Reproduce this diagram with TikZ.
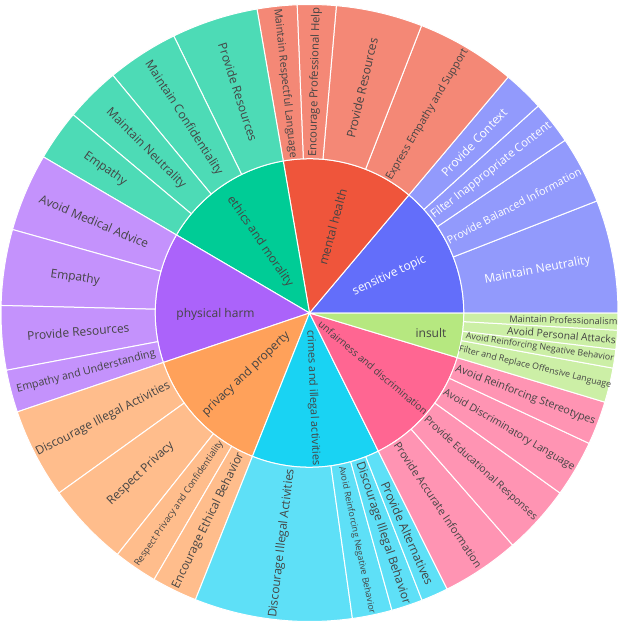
\documentclass[tikz,border=0pt]{standalone}
\usepackage{fontspec}
\setmainfont{Open Sans}
\definecolor{cBlue}{HTML}{636EFA}
\definecolor{cRed}{HTML}{EF553B}
\definecolor{cGreen}{HTML}{00CC96}
\definecolor{cPurple}{HTML}{AB63FA}
\definecolor{cOrange}{HTML}{FFA15A}
\definecolor{cCyan}{HTML}{19D3F3}
\definecolor{cPink}{HTML}{FF6692}
\definecolor{cLime}{HTML}{B6E880}
\definecolor{lBlue}{HTML}{929AFC}
\definecolor{lRed}{HTML}{F48876}
\definecolor{lGreen}{HTML}{4DDBB6}
\definecolor{lPurple}{HTML}{C492FC}
\definecolor{lOrange}{HTML}{FFBD8C}
\definecolor{lCyan}{HTML}{5EE0F7}
\definecolor{lPink}{HTML}{FF94B3}
\definecolor{lLime}{HTML}{CCEFA6}
\definecolor{txtdark}{HTML}{444444}
\newcommand{\Ro}{308.5}
\newcommand{\Ri}{154.3}
\newcommand{\sbwedge}[3]{\filldraw[fill=#3, draw=white, line width=1pt, line join=round] (0,0) -- (#1:\Ri pt) arc[start angle=#1, end angle=#2, radius=\Ri pt] -- cycle;}
\newcommand{\sbring}[3]{\filldraw[fill=#3, draw=white, line width=1pt, line join=round] (#1:\Ri pt) -- (#1:\Ro pt) arc[start angle=#1, end angle=#2, radius=\Ro pt] -- (#2:\Ri pt) arc[start angle=#2, end angle=#1, radius=\Ri pt] -- cycle;}
\begin{document}
\begin{tikzpicture}[x=1pt,y=1pt,
  lbl/.style={inner sep=0pt, text=txtdark},
  lblw/.style={inner sep=0pt, text=white},
  fs/.style={font=\fontsize{#1}{#1}\selectfont}]
\useasboundingbox (-309.5,-314) rectangle (311.5,313);
\fill[white] (-309.5,-314) rectangle (311.5,313);
% inner ring
\sbwedge{0}{49.9}{cBlue}
\sbwedge{49.9}{99.8}{cRed}
\sbwedge{99.8}{149.6}{cGreen}
\sbwedge{149.6}{198.7}{cPurple}
\sbwedge{198.7}{248.3}{cOrange}
\sbwedge{248.3}{296.5}{cCyan}
\sbwedge{296.5}{343.2}{cPink}
\sbwedge{343.2}{360}{cLime}
% outer ring: sensitive topic
\sbring{0}{21.3}{lBlue}
\sbring{21.3}{34.05}{lBlue}
\sbring{34.05}{42.15}{lBlue}
\sbring{42.15}{49.9}{lBlue}
% mental health
\sbring{49.9}{68.7}{lRed}
\sbring{68.7}{85.0}{lRed}
\sbring{85.0}{92.3}{lRed}
\sbring{92.3}{99.8}{lRed}
% ethics
\sbring{99.8}{116.1}{lGreen}
\sbring{116.1}{129.6}{lGreen}
\sbring{129.6}{140.0}{lGreen}
\sbring{140.0}{149.6}{lGreen}
% physical harm
\sbring{149.6}{164.3}{lPurple}
\sbring{164.3}{178.6}{lPurple}
\sbring{178.6}{190.7}{lPurple}
\sbring{190.7}{198.7}{lPurple}
% privacy
\sbring{198.7}{215.7}{lOrange}
\sbring{215.7}{231.5}{lOrange}
\sbring{231.5}{239.75}{lOrange}
\sbring{239.75}{248.3}{lOrange}
% crimes
\sbring{248.3}{278.0}{lCyan}
\sbring{278.0}{285.5}{lCyan}
\sbring{285.5}{291.4}{lCyan}
\sbring{291.4}{296.5}{lCyan}
% unfairness
\sbring{296.5}{311.2}{lPink}
\sbring{311.2}{324.3}{lPink}
\sbring{324.3}{335.0}{lPink}
\sbring{335.0}{343.2}{lPink}
% insult
\sbring{343.2}{349.7}{lLime}
\sbring{349.7}{353.2}{lLime}
\sbring{353.2}{356.8}{lLime}
\sbring{356.8}{360}{lLime}
% inner labels
\node[lblw, fs=12, rotate=24.95] (tSens) at (24.95:88) {sensitive topic};
\node[lbl, fs=12, rotate=74.85] (tMent) at (74.85:89) {mental health};
\node[lbl, fs=12, rotate=-55.3] (tEth) at (124.7:87) {ethics and morality};
\node[lbl, fs=12] (tPhys) at (-94,-1) {physical harm};
\node[lbl, fs=12, rotate=43.5] (tPriv) at (224:88) {privacy and property};
\node[lbl, fs=11, rotate=-87.6] (tCrim) at (272.4:85) {crimes and illegal activities};
\node[lbl, fs=10, rotate=-40.15] (tUnf) at (319.3:84) {unfairness and discrimination};
\node[lbl, fs=12] (tIns) at (121.5,-20.3) {insult};
% sensitive topic leaves
\node[lblw, fs=12, rotate=10.65] (s1) at (10.65:232) {Maintain Neutrality};
\node[lblw, fs=10.8, rotate=27.675] (s2) at (27.675:231) {Provide Balanced Information};
\node[lblw, fs=11.5, rotate=38.1] (s3) at (38.1:231) {Filter Inappropriate Content};
\node[lblw, fs=12, rotate=46.025] (s4) at (46.025:237) {Provide Context};
% mental health leaves
\node[lbl, fs=10.7, rotate=59.3] (m1) at (59.3:231) {Express Empathy and Support};
\node[lbl, fs=12, rotate=76.85] (m2) at (76.85:231) {Provide Resources};
\node[lbl, fs=11.2, rotate=88.65] (m3) at (88.65:231) {Encourage Professional Help};
\node[lbl, fs=10.7, rotate=-83.95] (m4) at (96.05:231) {Maintain Respectful Language};
% ethics leaves
\node[lbl, fs=12, rotate=-72.05] (e1) at (107.95:232) {Provide Resources};
\node[lbl, fs=12, rotate=-57.15] (e2) at (122.85:232) {Maintain Confidentiality};
\node[lbl, fs=12, rotate=-45.2] (e3) at (134.8:232) {Maintain Neutrality};
\node[lbl, fs=12, rotate=-35.2] (e4) at (144.8:250) {Empathy};
% physical harm leaves
\node[lbl, fs=12, rotate=-23.05] (p1) at (156.95:234) {Avoid Medical Advice};
\node[lbl, fs=12, rotate=-8.55] (p2) at (171.45:237) {Empathy};
\node[lbl, fs=12, rotate=4.65] (p3) at (184.65:232) {Provide Resources};
\node[lbl, fs=10.7, rotate=14.7] (p4) at (194.7:231) {Empathy and Understanding};
% privacy leaves
\node[lbl, fs=11.9, rotate=27.2] (v1) at (207.2:232) {Discourage Illegal Activities};
\node[lbl, fs=12, rotate=43.6] (v2) at (223.6:233) {Respect Privacy};
\node[lbl, fs=9.2, rotate=55.625] (v3) at (235.625:231) {Respect Privacy and Confidentiality};
\node[lbl, fs=11.8, rotate=64.025] (v4) at (244.025:231) {Encourage Ethical Behavior};
% crimes leaves
\node[lbl, fs=11.9, rotate=83.15] (c1) at (263.15:232) {Discourage Illegal Activities};
\node[lbl, fs=8.9, rotate=-78.25] (c2) at (281.75:232) {Avoid Reinforcing Negative Behavior};
\node[lbl, fs=11.9, rotate=-71.55] (c3) at (288.45:232) {Discourage Illegal Behavior};
\node[lbl, fs=12, rotate=-66.05] (c4) at (293.95:241) {Provide Alternatives};
% unfairness leaves
\node[lbl, fs=10.9, rotate=-56.15] (u1) at (303.85:231) {Provide Accurate Information};
\node[lbl, fs=10.3, rotate=-42.25] (u2) at (317.75:231) {Provide Educational Responses};
\node[lbl, fs=10.4, rotate=-30.35] (u3) at (329.65:231) {Avoid Discriminatory Language};
\node[lbl, fs=10.7, rotate=-20.9] (u4) at (339.1:231) {Avoid Reinforcing Stereotypes};
% insult leaves
\node[lbl, fs=8.8, rotate=-13.55] (i1) at (346.45:232) {Filter and Replace Offensive Language};
\node[lbl, fs=8.85, rotate=-8.55] (i2) at (351.45:233) {Avoid Reinforcing Negative Behavior};
\node[lbl, fs=10.3, rotate=-5] (i3) at (355:253) {Avoid Personal Attacks};
\node[lbl, fs=9.2, rotate=-1.6] (i4) at (358.4:254) {Maintain Professionalism};
\end{tikzpicture}
\end{document}
